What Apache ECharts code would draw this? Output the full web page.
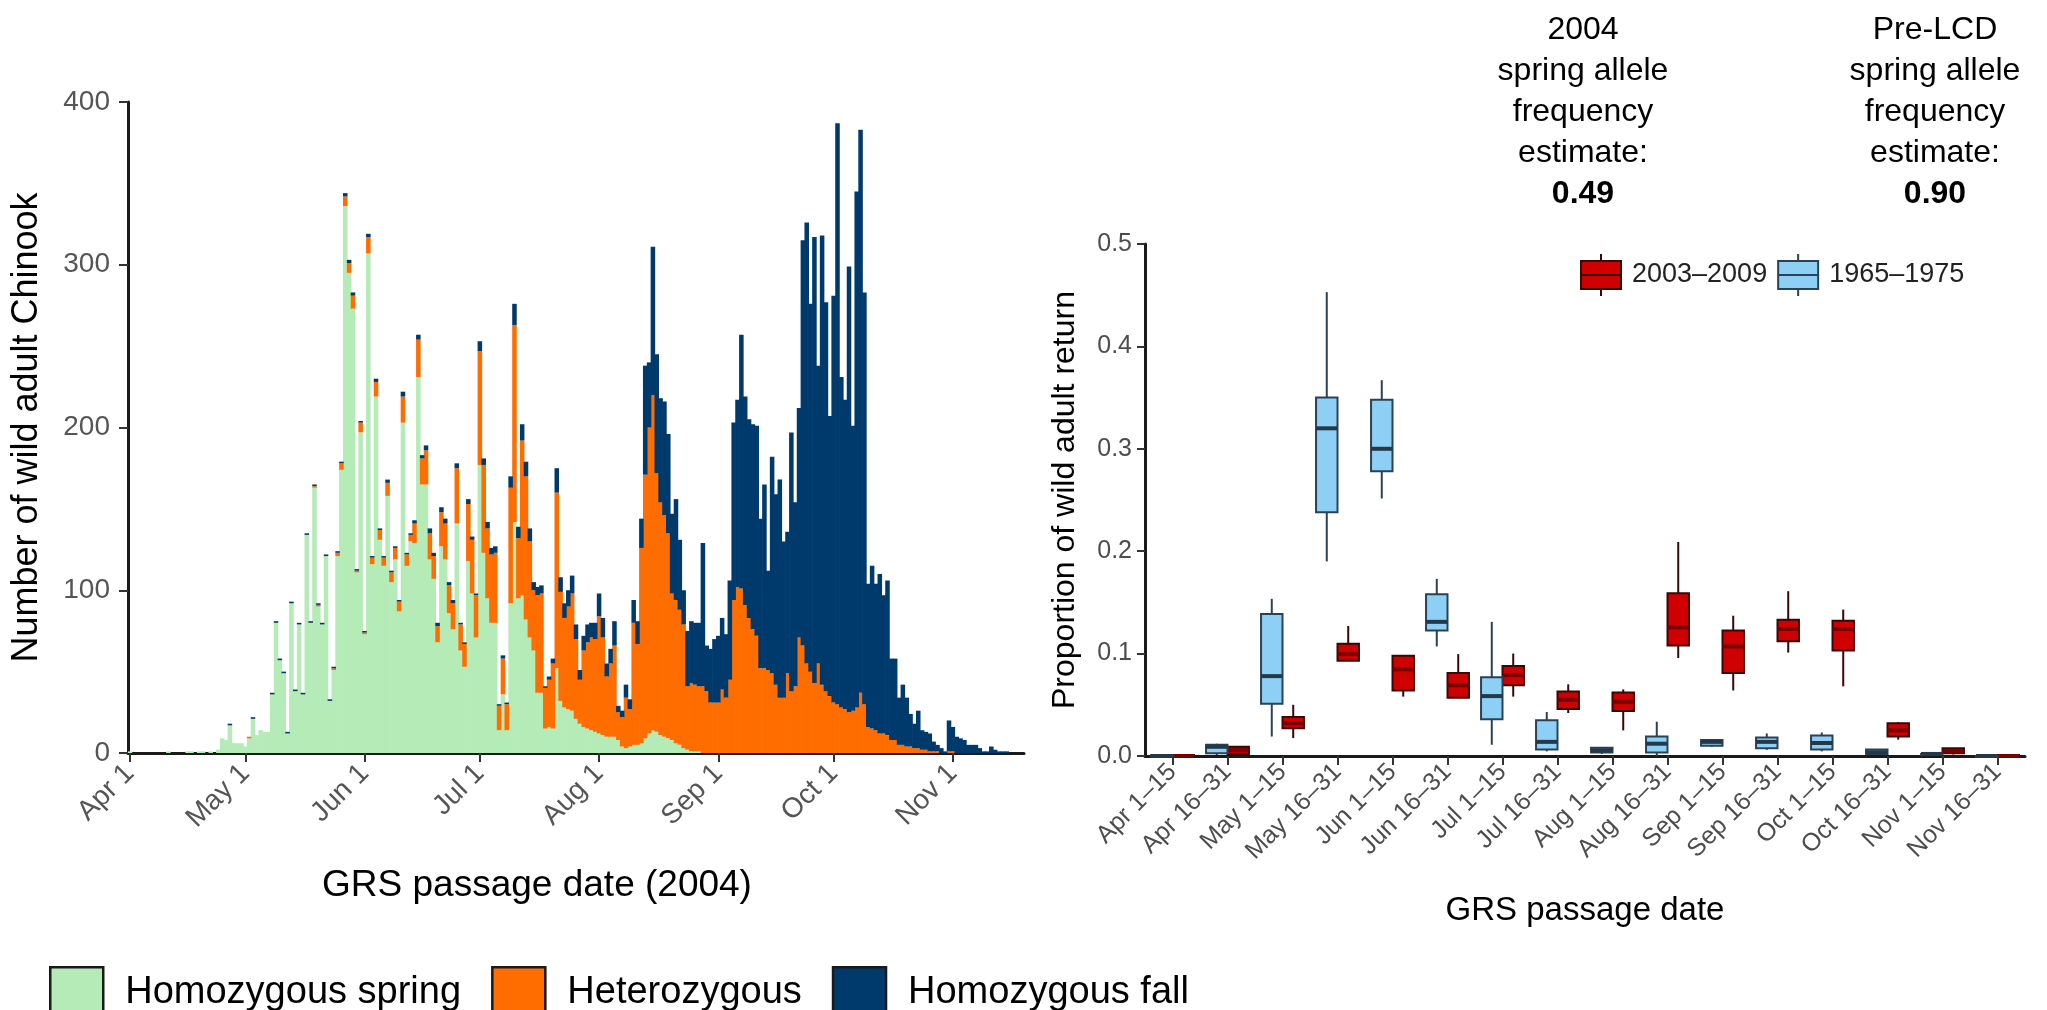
<!DOCTYPE html>
<html>
<head>
<meta charset="utf-8">
<script src="https://cdn.jsdelivr.net/npm/echarts@6/dist/echarts.min.js"></script>
<style>
  html, body { margin: 0; padding: 0; background: #ffffff; }
  #chart { width: 2047px; height: 1010px; }
</style>
</head>
<body>
<div id="chart"></div>
<script>
const FONT = '"Liberation Sans", Arial, Helvetica, sans-serif';

// ---- Daily counts at Lower Granite (GRS), 2004: Apr 1 .. Nov 19 ----
const monthNames = ['Apr', 'May', 'Jun', 'Jul', 'Aug', 'Sep', 'Oct', 'Nov'];
const monthLengths = [30, 31, 30, 31, 31, 30, 31, 19];
const monthTickLabels = ['Apr 1', 'May 1', 'Jun 1', 'Jul 1', 'Aug 1', 'Sep 1', 'Oct 1', 'Nov 1'];

const homozygousSpring = [
  1,0,0,0,0,0,0,0,0,0,
  1,0,0,0,0,1,1,0,1,1,
  0,1,0,2,9,8,17,6,6,6,
  4,9,21,11,14,13,13,36,80,57,
  49,12,92,38,79,36,134,80,163,90,
  79,121,32,51,121,174,336,295,273,111,
  197,73,307,116,219,131,115,158,105,119,
  87,203,115,130,129,231,165,165,119,107,
  68,127,119,86,76,141,63,53,118,98,
  71,177,123,95,80,80,14,36,14,92,
  142,95,97,82,71,63,37,37,15,16,
  15,52,32,28,27,26,21,18,16,15,
  14,13,12,11,10,10,10,8,4,3,
  4,5,5,6,9,12,14,13,11,10,
  9,8,6,5,3,2,1,1,1,0,
  0,0,0,0,0,0,0,0,0,0,
  0,0,0,0,0,0,0,0,0,0,
  0,0,0,0,0,0,0,0,0,0,
  0,0,0,0,0,0,0,0,0,0,
  0,0,0,0,0,0,0,0,0,0,
  0,0,0,0,0,0,0,0,0,0,
  0,0,0,0,0,0,0,0,0,0,
  0,0,0,0,0,0,0,0,0,0,
  0,0,0
];

const heterozygous = [
  0,0,0,0,0,0,0,0,0,0,
  0,0,0,0,0,0,0,0,0,0,
  0,0,0,0,0,0,0,0,0,0,
  0,1,0,0,0,0,0,0,0,0,
  0,0,0,0,0,0,0,0,1,1,
  0,0,0,1,2,4,6,6,8,1,
  6,1,10,4,9,6,5,8,6,7,
  6,16,7,4,12,23,16,21,16,14,
  10,21,22,17,16,34,16,14,35,33,
  26,70,54,43,42,43,15,22,16,71,
  121,37,95,88,59,37,60,61,25,29,
  40,108,67,55,63,72,49,27,47,53,
  57,57,72,60,37,45,56,17,18,31,
  23,75,62,120,162,188,206,159,143,136,
  126,90,88,83,76,39,42,41,40,41,
  38,31,31,31,39,34,45,94,102,101,
  91,83,76,72,52,52,51,49,42,34,
  34,49,38,41,71,66,55,50,43,55,
  42,38,35,31,30,28,27,25,26,28,
  37,30,16,15,14,12,12,11,8,8,
  5,5,4,4,3,3,2,2,1,1,
  1,0,0,1,1,0,0,0,0,0,
  0,0,0,0,0,0,0,0,0,0,
  0,0,0
];

const homozygousFall = [
  0,0,0,0,0,0,0,0,0,0,
  0,0,0,0,0,0,0,0,0,0,
  0,0,0,0,0,0,1,0,0,0,
  0,0,1,0,0,0,0,1,1,1,
  1,1,1,1,1,1,1,1,1,1,
  1,1,1,1,1,1,2,2,2,1,
  1,1,2,1,2,1,1,2,1,1,
  1,3,1,1,2,3,2,3,3,2,
  2,3,3,2,2,3,1,1,3,2,
  1,6,4,4,4,4,1,2,1,7,
  13,7,10,9,8,5,5,5,1,2,
  3,15,9,9,10,11,9,6,9,11,
  9,10,14,12,8,9,15,4,4,8,
  6,14,14,18,67,40,91,73,64,70,
  61,49,62,43,21,34,38,38,39,88,
  28,33,39,41,44,39,61,109,115,156,
  128,122,126,129,92,113,61,133,117,134,
  96,87,159,113,141,249,271,226,274,183,
  276,239,172,250,357,203,190,274,175,317,
  346,253,88,100,90,98,85,95,50,50,
  29,37,30,20,15,23,12,11,11,6,
  4,3,1,19,15,10,9,8,5,5,
  5,3,1,1,4,2,1,1,1,0,
  0,0,0
];

const genotypeNames = ['Homozygous spring', 'Heterozygous', 'Homozygous fall'];

// ---- Half-month proportions of the wild adult return ----
const halfMonths = ['Apr 1–15', 'Apr 16–31', 'May 1–15', 'May 16–31', 'Jun 1–15', 'Jun 16–31',
  'Jul 1–15', 'Jul 16–31', 'Aug 1–15', 'Aug 16–31', 'Sep 1–15', 'Sep 16–31',
  'Oct 1–15', 'Oct 16–31', 'Nov 1–15', 'Nov 16–31'];
const periodNames = ['2003–2009', '1965–1975'];

// [lower whisker, Q1, median, Q3, upper whisker]
const recentBoxes = [
  [0, 0, 0, 0.001, 0.001],
  [0.001, 0.0015, 0.0056, 0.009, 0.009],
  [0.0175, 0.027, 0.032, 0.038, 0.05],
  [0.093, 0.093, 0.0995, 0.1095, 0.127],
  [0.058, 0.064, 0.0846, 0.098, 0.098],
  [0.0566, 0.057, 0.069, 0.081, 0.0995],
  [0.058, 0.069, 0.079, 0.088, 0.1],
  [0.042, 0.046, 0.055, 0.063, 0.07],
  [0.025, 0.044, 0.053, 0.062, 0.065],
  [0.0957, 0.108, 0.1256, 0.159, 0.209],
  [0.064, 0.081, 0.107, 0.1226, 0.137],
  [0.101, 0.112, 0.124, 0.133, 0.161],
  [0.068, 0.103, 0.124, 0.132, 0.143],
  [0.016, 0.019, 0.025, 0.032, 0.033],
  [0.0015, 0.0026, 0.005, 0.0075, 0.0075],
  [0, 0, 0, 0.001, 0.001]
];
const historicBoxes = [
  [0, 0, 0, 0.001, 0.001],
  [0.001, 0.0026, 0.009, 0.011, 0.012],
  [0.019, 0.051, 0.078, 0.1386, 0.1535],
  [0.19, 0.238, 0.32, 0.35, 0.453],
  [0.2515, 0.278, 0.30, 0.348, 0.367],
  [0.107, 0.1226, 0.131, 0.158, 0.173],
  [0.011, 0.036, 0.0585, 0.077, 0.131],
  [0.0045, 0.0063, 0.0138, 0.035, 0.043],
  [0.002, 0.0034, 0.0056, 0.008, 0.008],
  [0, 0.0034, 0.012, 0.019, 0.0335],
  [0.009, 0.01, 0.0138, 0.0156, 0.0156],
  [0.006, 0.0075, 0.0138, 0.018, 0.022],
  [0.0045, 0.0063, 0.0127, 0.02, 0.023],
  [0.0019, 0.0019, 0.0037, 0.0063, 0.0063],
  [0.001, 0.0015, 0.002, 0.002, 0.0025],
  [0, 0, 0, 0, 0.001]
];

const estimateHeads = ['2004\nspring allele\nfrequency\nestimate:', 'Pre-LCD\nspring allele\nfrequency\nestimate:'];
const estimateValues = ['0.49', '0.90'];

// ---- derived tables ----
const dayLabels = [];
monthNames.forEach((m, i) => {
  for (let d = 1; d <= monthLengths[i]; d++) dayLabels.push(m + ' ' + d);
});
const isMonthStart = (idx, val) => monthTickLabels.indexOf(val) !== -1;

const colors = {
  spring: '#b4ebb7',
  het: '#ff6d00',
  fall: '#003a6c',
  recentFill: '#d10000',
  recentLine: '#3a0606',
  recentMedian: '#7a0000',
  historicFill: '#8ecff5',
  historicLine: '#2a4257',
  historicMedian: '#24384a'
};

function boxRenderer(offset, fill, stroke, medianStroke) {
  return function (params, api) {
    const cat = api.value(0);
    const band = api.size([1, 0])[0];
    const cx = api.coord([cat, 0])[0] + offset * band;
    const half = band * 0.195;
    const y = (i) => api.coord([cat, api.value(i)])[1];
    const yMin = y(1), yQ1 = y(2), yMed = y(3), yQ3 = y(4), yMax = y(5);
    return {
      type: 'group',
      children: [
        { type: 'line', shape: { x1: cx, y1: yMax, x2: cx, y2: yQ3 }, style: { stroke: stroke, lineWidth: 2 } },
        { type: 'line', shape: { x1: cx, y1: yQ1, x2: cx, y2: yMin }, style: { stroke: stroke, lineWidth: 2 } },
        { type: 'rect', shape: { x: cx - half, y: yQ3, width: half * 2, height: Math.max(yQ1 - yQ3, 1) },
          style: { fill: fill, stroke: stroke, lineWidth: 2 } },
        { type: 'line', shape: { x1: cx - half, y1: yMed, x2: cx + half, y2: yMed },
          style: { stroke: medianStroke, lineWidth: 4 } }
      ]
    };
  };
}
const toRows = (boxes) => boxes.map((b, i) => [i].concat(b));

const boxIcon = 'path://M21,0V7M1,7H41V35H1ZM21,35V42M1,21H41';

const axisLineStyle = { color: '#1a1a1a', width: 3 };
const tickStyle = { color: '#333333', width: 2 };

// bars slightly wider than their day slot so neighbouring days join without seams
const barStyle = (c) => ({ color: c, borderWidth: 0 });

const chart = echarts.init(document.getElementById('chart'), null, { renderer: 'canvas' });
chart.setOption({
  animation: false,
  backgroundColor: '#ffffff',
  textStyle: { fontFamily: FONT },
  grid: [
    { left: 128, top: 102, width: 896, height: 651, containLabel: false, outerBoundsMode: 'none' },
    { left: 1145, top: 244, width: 880, height: 512, containLabel: false, outerBoundsMode: 'none' }
  ],
  xAxis: [
    {
      type: 'category', gridIndex: 0, data: dayLabels, boundaryGap: true,
      axisLine: { show: true, lineStyle: axisLineStyle },
      axisTick: { show: true, alignWithLabel: true, interval: isMonthStart, length: 9, lineStyle: tickStyle },
      axisLabel: { show: true, interval: isMonthStart, rotate: 45, margin: 16, fontSize: 28, color: '#555555', fontFamily: FONT },
      splitLine: { show: false },
      name: 'GRS passage date (2004)', nameLocation: 'middle', nameGap: 114,
      nameTextStyle: { fontSize: 37, color: '#000000', fontFamily: FONT, padding: [0, 78, 0, 0] }
    },
    {
      type: 'category', gridIndex: 1, data: halfMonths, boundaryGap: true,
      axisLine: { show: true, lineStyle: axisLineStyle },
      axisTick: { show: true, alignWithLabel: true, length: 9, lineStyle: tickStyle },
      axisLabel: { show: true, interval: 0, rotate: 45, margin: 12, fontSize: 25, color: '#4d4d4d', fontFamily: FONT },
      splitLine: { show: false },
      name: 'GRS passage date', nameLocation: 'middle', nameGap: 138,
      nameTextStyle: { fontSize: 33, color: '#000000', fontFamily: FONT }
    }
  ],
  yAxis: [
    {
      type: 'value', gridIndex: 0, min: 0, max: 400, interval: 100,
      axisLine: { show: true, lineStyle: axisLineStyle },
      axisTick: { show: true, length: 9, lineStyle: tickStyle },
      axisLabel: { show: true, margin: 18, fontSize: 28, color: '#555555', fontFamily: FONT },
      splitLine: { show: false },
      name: 'Number of wild adult Chinook', nameLocation: 'middle', nameGap: 83, nameRotate: 90,
      nameTextStyle: { fontSize: 36, color: '#000000', fontFamily: FONT }
    },
    {
      type: 'value', gridIndex: 1, min: 0, max: 0.5, interval: 0.1,
      axisLine: { show: true, lineStyle: axisLineStyle },
      axisTick: { show: true, length: 8, lineStyle: tickStyle },
      axisLabel: { show: true, margin: 13, fontSize: 25, color: '#4d4d4d', fontFamily: FONT,
        formatter: (v) => v.toFixed(1) },
      splitLine: { show: false },
      name: 'Proportion of wild adult return', nameLocation: 'middle', nameGap: 64, nameRotate: 90,
      nameTextStyle: { fontSize: 32, color: '#000000', fontFamily: FONT }
    }
  ],
  legend: [
    {
      left: 44, top: 961, orient: 'horizontal', icon: 'rect',
      itemWidth: 53, itemHeight: 50, itemGap: 30,
      itemStyle: { borderColor: '#1a1a1a', borderWidth: 2.5 },
      textStyle: { fontSize: 38, color: '#000000', fontFamily: FONT, padding: [0, 0, 0, 17] },
      selectedMode: false,
      data: genotypeNames
    },
    {
      left: 1575, top: 248, orient: 'horizontal',
      itemWidth: 42, itemHeight: 42, itemGap: 10,
      textStyle: { fontSize: 27, color: '#222222', fontFamily: FONT, padding: [0, 0, 0, 5] },
      selectedMode: false,
      data: [
        { name: periodNames[0], icon: boxIcon,
          itemStyle: { color: colors.recentFill, borderColor: colors.recentLine, borderWidth: 2 } },
        { name: periodNames[1], icon: boxIcon,
          itemStyle: { color: colors.historicFill, borderColor: colors.historicLine, borderWidth: 2 } }
      ]
    }
  ],
  graphic: [
    {
      type: 'text', x: 1583, y: 10, silent: true,
      style: {
        text: estimateHeads[0] + '\n{b|' + estimateValues[0] + '}',
        align: 'center', verticalAlign: 'top', fontSize: 32, lineHeight: 41, fontFamily: FONT, fill: '#000000',
        rich: { b: { fontSize: 32, lineHeight: 41, fontWeight: 'bold', fontFamily: FONT, fill: '#000000' } }
      }
    },
    {
      type: 'text', x: 1935, y: 10, silent: true,
      style: {
        text: estimateHeads[1] + '\n{b|' + estimateValues[1] + '}',
        align: 'center', verticalAlign: 'top', fontSize: 32, lineHeight: 41, fontFamily: FONT, fill: '#000000',
        rich: { b: { fontSize: 32, lineHeight: 41, fontWeight: 'bold', fontFamily: FONT, fill: '#000000' } }
      }
    }
  ],
  series: [
    { name: genotypeNames[0], type: 'bar', xAxisIndex: 0, yAxisIndex: 0, stack: 'genotype',
      barWidth: '118%', itemStyle: barStyle(colors.spring), data: homozygousSpring },
    { name: genotypeNames[1], type: 'bar', xAxisIndex: 0, yAxisIndex: 0, stack: 'genotype',
      barWidth: '118%', itemStyle: barStyle(colors.het), data: heterozygous },
    { name: genotypeNames[2], type: 'bar', xAxisIndex: 0, yAxisIndex: 0, stack: 'genotype',
      barWidth: '118%', itemStyle: barStyle(colors.fall), data: homozygousFall },
    { name: periodNames[0], type: 'custom', xAxisIndex: 1, yAxisIndex: 1,
      renderItem: boxRenderer(0.195, colors.recentFill, colors.recentLine, colors.recentMedian),
      encode: { x: 0, y: [1, 2, 3, 4, 5] },
      itemStyle: { color: colors.recentFill },
      data: toRows(recentBoxes), z: 3 },
    { name: periodNames[1], type: 'custom', xAxisIndex: 1, yAxisIndex: 1,
      renderItem: boxRenderer(-0.195, colors.historicFill, colors.historicLine, colors.historicMedian),
      encode: { x: 0, y: [1, 2, 3, 4, 5] },
      itemStyle: { color: colors.historicFill },
      data: toRows(historicBoxes), z: 3 }
  ]
});
</script>
</body>
</html>
